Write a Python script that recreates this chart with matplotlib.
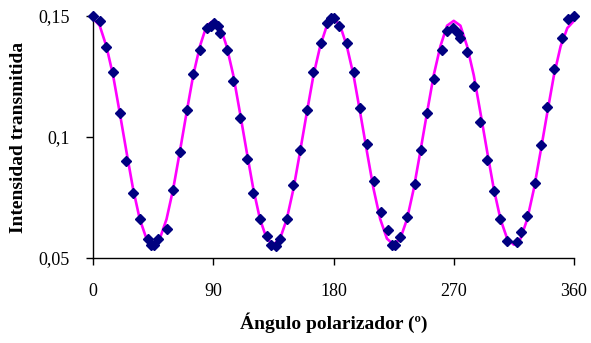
import numpy as np
import matplotlib.pyplot as plt

# measured points (angle in degrees, intensity)
ang = [0, 5, 10, 15, 20, 25, 30, 35, 41, 43.5, 46, 48.5, 55, 60, 65, 70, 75, 80,
       85, 88.5, 90.5, 93.5, 95, 100, 105, 110, 115, 120, 125, 130, 133.5, 137,
       140, 145, 150, 155, 160, 165, 170.5, 175, 178, 180.5, 184, 190, 195, 200,
       205, 210, 215.5, 220.5, 223.5, 226, 230, 235, 241, 245.5, 250, 255, 261,
       265, 269.5, 273.5, 275, 280, 285, 290, 295, 300, 305, 310, 317, 320, 325,
       330.5, 335, 340, 345, 351, 355.5, 360]
inten = [0.150, 0.148, 0.137, 0.127, 0.110, 0.090, 0.077, 0.066, 0.058, 0.0555,
         0.0555, 0.058, 0.062, 0.078, 0.094, 0.111, 0.126, 0.136,
         0.145, 0.146, 0.147, 0.146, 0.143, 0.136, 0.123, 0.108, 0.091, 0.077,
         0.066, 0.059, 0.0555, 0.055,
         0.058, 0.066, 0.080, 0.0946, 0.111, 0.127, 0.139, 0.147, 0.149, 0.149,
         0.146, 0.139, 0.127, 0.112,
         0.097, 0.082, 0.069, 0.0616, 0.0555, 0.0555, 0.0588, 0.067, 0.0805,
         0.0946, 0.110, 0.124, 0.136,
         0.144, 0.145, 0.143, 0.141, 0.135, 0.121, 0.106, 0.0905, 0.0778, 0.066,
         0.057, 0.0567, 0.0609, 0.0675,
         0.0809, 0.0967, 0.1123, 0.128, 0.141, 0.1486, 0.150]

# fitted curve read every 5 degrees
fit_ang = list(range(0, 361, 5))
fit_val = [0.149, 0.146, 0.1375, 0.1255, 0.110, 0.094, 0.0785, 0.066, 0.058,
           0.0555, 0.058, 0.066, 0.0785, 0.094, 0.110, 0.1255, 0.1375, 0.146,
           0.148, 0.146, 0.1375, 0.1255, 0.110, 0.094, 0.0785, 0.066, 0.058,
           0.0555, 0.058, 0.066, 0.0785, 0.094, 0.110, 0.1255, 0.1375, 0.146,
           0.149, 0.146, 0.1375, 0.1255, 0.110, 0.094, 0.0785, 0.066, 0.058,
           0.0555, 0.058, 0.066, 0.0785, 0.094, 0.110, 0.1255, 0.1375, 0.146,
           0.148, 0.146, 0.1375, 0.1255, 0.110, 0.094, 0.0785, 0.066, 0.058,
           0.0555, 0.058, 0.066, 0.0785, 0.094, 0.110, 0.1255, 0.1375, 0.145,
           0.148]

xticks = [0, 90, 180, 270, 360]
yticks = [0.05, 0.1, 0.15]
ylabels = ['0,05', '0,1', '0,15']

plt.rcParams['font.family'] = ['Liberation Serif', 'DejaVu Serif']

fig = plt.figure(figsize=(5.91, 3.43), dpi=100)
ax = fig.add_axes([0.1574, 0.2478, 0.8138, 0.7056])

ax.plot(fit_ang, fit_val, color='#FF00FF', lw=1.9, zorder=2, clip_on=False)
ax.plot(ang, inten, ls='none', marker='D', ms=5, color='#000080',
        zorder=3, clip_on=False)

ax.set_xlim(0, 360)
ax.set_ylim(0.05, 0.15)
ax.set_xticks(xticks)
ax.set_xticklabels([str(t) for t in xticks])
ax.set_yticks(yticks)
ax.set_yticklabels(ylabels)
ax.tick_params(axis='both', direction='out', length=5, width=1, labelsize=13,
               colors='black')
ax.tick_params(axis='x', pad=13)
ax.tick_params(axis='y', pad=12)
for s in ['top', 'right']:
    ax.spines[s].set_visible(False)
for s in ['left', 'bottom']:
    ax.spines[s].set_linewidth(1)

ax.set_xlabel('Ángulo polarizador (º)', fontsize=14, fontweight='bold', labelpad=9)
ax.set_ylabel('Intensidad transmitida', fontsize=14, fontweight='bold', labelpad=8)

fig.savefig('out.png', dpi=100)
